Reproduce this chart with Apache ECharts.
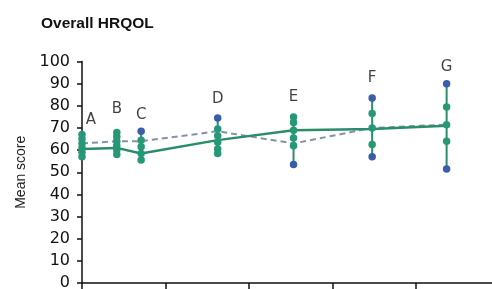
<!DOCTYPE html>
<html>
<head>
<meta charset="utf-8">
<script src="https://cdn.jsdelivr.net/npm/echarts@6/dist/echarts.min.js"></script>
<style>
html,body{margin:0;padding:0;background:#fff;}
#chart{width:492px;height:289px;}
</style>
</head>
<body>
<div id="chart"></div>
<script>
// ---- data ----
var pointLabels = ['A', 'B', 'C', 'D', 'E', 'F', 'G'];
var timePoints = [0, 5, 8.5, 19.5, 30.4, 41.7, 52.4];
var greenDots = [
  [67, 65, 63, 61, 59, 57],
  [68, 66, 64, 62, 60, 58],
  [64.5, 61.5, 58.5, 55.5],
  [69.5, 66.5, 63.5, 60.5, 58.5],
  [75, 72.5, 69, 65.5, 62],
  [76.5, 70, 62.5],
  [79.5, 71.5, 64]
];
var blueDots = [
  [],
  [],
  [68.5],
  [74.5],
  [53.5],
  [83.5, 57],
  [90, 51.5]
];
var solidLine = [60.5, 61, 58.5, 64.5, 69, 69.5, 71];
var dashedLine = [63, 64, 64, 68.5, 63, 70, 71.5];
var yTicks = [0, 10, 20, 30, 40, 50, 60, 70, 80, 90, 100];

// ---- styles ----
var GREEN = '#279877';
var LINE_GREEN = '#2b8c6c';
var BLUE = '#3b5ca6';
var DASH = '#8592a8';
var labelOffsets = [[9, 2], [0, -7], [0, 0], [0, -2], [0, -3], [0, -3], [0, 0]];

// ---- build ----
var ranges = timePoints.map(function (t, i) {
  var all = greenDots[i].concat(blueDots[i]);
  return [t, Math.min.apply(null, all), Math.max.apply(null, all)];
});
var greenData = [], blueData = [];
timePoints.forEach(function (t, i) {
  greenDots[i].forEach(function (v) { greenData.push([t, v]); });
  blueDots[i].forEach(function (v) { blueData.push([t, v]); });
});
var labelData = ranges.map(function (r, i) {
  return {
    value: [r[0], r[2]],
    label: { offset: labelOffsets[i] }
  };
});

var chart = echarts.init(document.getElementById('chart'), null, { renderer: 'canvas' });
chart.setOption({
  backgroundColor: '#ffffff',
  animation: false,
  title: {
    text: 'Overall HRQOL',
    left: 36, top: 11,
    textStyle: { fontFamily: 'Liberation Sans', fontSize: 15.5, fontWeight: 'bold', color: '#111' }
  },
  grid: { left: 82, top: 61.5, width: 417.5, height: 221.5, containLabel: false, outerBoundsMode: 'none' },
  xAxis: {
    type: 'value', min: 0, max: 60, interval: 12,
    axisLine: { show: true, lineStyle: { color: '#111', width: 1.5 } },
    axisTick: { show: true, length: 6, lineStyle: { color: '#111', width: 1.5 } },
    axisLabel: { show: false },
    splitLine: { show: false }
  },
  yAxis: {
    type: 'value', min: yTicks[0], max: yTicks[yTicks.length - 1], interval: 10,
    name: 'Mean score', nameLocation: 'middle', nameGap: 52, nameRotate: 90,
    nameTextStyle: { fontFamily: 'Liberation Sans', fontSize: 14, color: '#222' },
    axisLine: { show: true, lineStyle: { color: '#111', width: 1.5 } },
    axisTick: { show: true, length: 5, lineStyle: { color: '#111', width: 1.5 } },
    axisLabel: { margin: 12, fontFamily: 'DejaVu Sans', fontSize: 16, color: '#111' },
    splitLine: { show: false }
  },
  series: [
    {
      type: 'custom',
      data: ranges,
      z: 2,
      renderItem: function (params, api) {
        var p1 = api.coord([api.value(0), api.value(1)]);
        var p2 = api.coord([api.value(0), api.value(2)]);
        return {
          type: 'line',
          shape: { x1: p1[0], y1: p1[1], x2: p2[0], y2: p2[1] },
          style: { stroke: LINE_GREEN, lineWidth: 2 }
        };
      }
    },
    {
      type: 'line', z: 3,
      data: timePoints.map(function (t, i) { return [t, dashedLine[i]]; }),
      showSymbol: false, symbol: 'none',
      lineStyle: { color: DASH, width: 2, type: [6, 4] }
    },
    {
      type: 'line', z: 4,
      data: timePoints.map(function (t, i) { return [t, solidLine[i]]; }),
      showSymbol: false, symbol: 'none',
      lineStyle: { color: LINE_GREEN, width: 2.5 }
    },
    {
      type: 'scatter', z: 5,
      data: greenData, symbolSize: 7.5,
      itemStyle: { color: GREEN, opacity: 1 }
    },
    {
      type: 'scatter', z: 6,
      data: blueData, symbolSize: 7.5,
      itemStyle: { color: BLUE, opacity: 1 }
    },
    {
      type: 'scatter', z: 7,
      data: labelData, symbolSize: 0,
      label: {
        show: true, position: 'top', distance: 9,
        formatter: function (p) { return pointLabels[p.dataIndex]; },
        fontFamily: 'DejaVu Sans', fontSize: 15, color: '#111'
      }
    }
  ]
});
</script>
</body>
</html>
